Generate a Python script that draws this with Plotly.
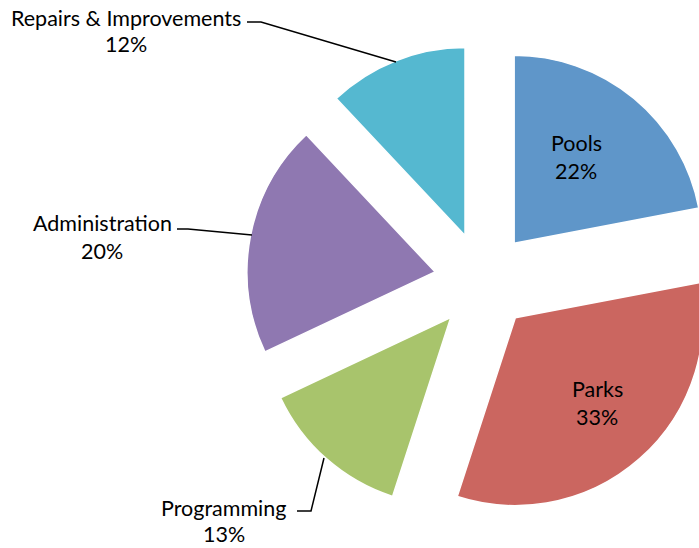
import plotly.graph_objects as go

labels = ["Pools", "Parks", "Programming", "Administration", "Repairs & Improvements"]
values = [22, 33, 13, 20, 12]
colors = ["#5F96C9", "#CB6660", "#A8C46C", "#8F78B1", "#55B8D0"]

W, H = 760, 548
FONT = "Lato"
FS = 21.5

def px(x, y):
    return x / W, 1 - y / H

cx, cy = 483, 281
r = 188
pull = 0.26
half = r * (1 + pull)

fig = go.Figure(go.Pie(
    labels=labels,
    values=values,
    sort=False,
    direction="clockwise",
    rotation=0,
    pull=pull,
    marker=dict(colors=colors, line=dict(color="white", width=1.5)),
    textinfo="none",
    hoverinfo="label+percent",
    showlegend=False,
    domain=dict(
        x=[(cx - half) / W, (cx + half) / W],
        y=[(H - cy - half) / H, (H - cy + half) / H],
    ),
))

total = sum(values)
# label placement: (x center, y of label line, y of percent line) in px
label_pos = {
    "Pools": (576, 143, 171),
    "Parks": (597, 389, 417),
    "Programming": (224, 508, 534),
    "Administration": (102, 223, 251),
    "Repairs & Improvements": (126, 18, 44),
}
for lab, v in zip(labels, values):
    x, y1, y2 = label_pos[lab]
    for txt, y in ((lab, y1), (f"{round(100 * v / total)}%", y2)):
        xx, yy = px(x, y)
        fig.add_annotation(x=xx, y=yy, xref="paper", yref="paper",
                           text=txt, showarrow=False,
                           font=dict(family=FONT, size=FS, color="black"),
                           align="center", xanchor="center", yanchor="middle")

leaders = [
    [(247, 22), (261, 22), (396, 62)],
    [(177, 229), (188, 229), (252, 235)],
    [(297, 511), (311, 511), (324, 458)],
]
for pts in leaders:
    path = ""
    for i, (x, y) in enumerate(pts):
        xx, yy = px(x, y)
        path += ("M" if i == 0 else "L") + f"{xx},{yy} "
    fig.add_shape(type="path", path=path.strip(), xref="paper", yref="paper",
                  line=dict(color="black", width=1.5))

fig.update_layout(
    width=W, height=H, autosize=False,
    margin=dict(l=0, r=0, t=0, b=0),
    paper_bgcolor="white", plot_bgcolor="white",
)

fig.write_html("out.html", post_script="document.body.style.margin='0';document.body.style.overflow='hidden';")
